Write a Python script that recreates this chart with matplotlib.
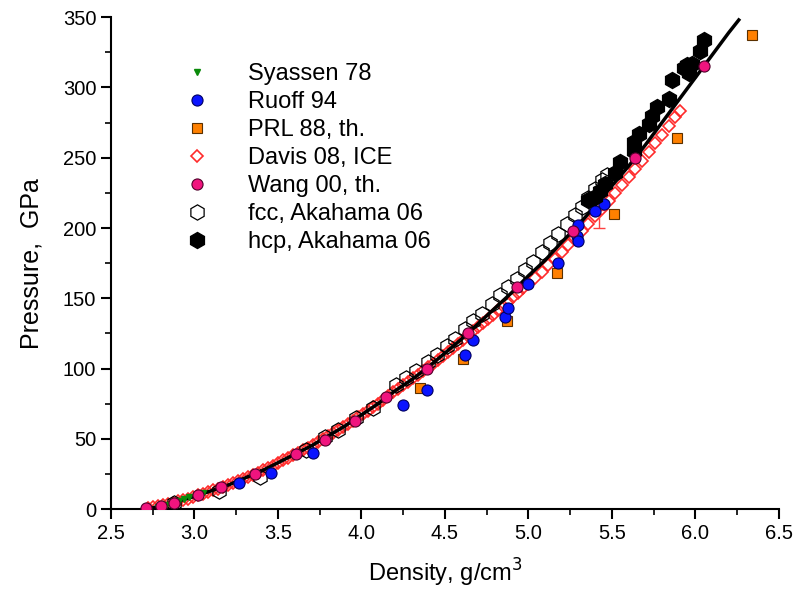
import matplotlib
matplotlib.use("Agg")
from matplotlib import pyplot as plt
from matplotlib.ticker import MultipleLocator

plt.rcParams['font.family'] = ['Liberation Sans', 'DejaVu Sans']

# fitted EOS curve
fit_rho = [2.72, 2.8, 2.9, 3.0, 3.1, 3.2, 3.3, 3.4, 3.5, 3.6, 3.7, 3.8, 3.9, 4.0, 4.1, 4.2,
           4.3, 4.4, 4.5, 4.6, 4.7, 4.8, 4.9, 5.0, 5.1, 5.2, 5.3, 5.4, 5.5, 5.6, 5.7, 5.8,
           5.9, 6.0, 6.1, 6.2, 6.26]
fit_p = [0, 2.5, 5.5, 9, 13, 17, 22, 27, 33, 39, 45, 52, 59, 67, 75, 84,
         92, 101, 111, 121, 132, 143, 154, 166, 177, 190, 202, 216, 230, 244, 259, 275,
         291, 307, 323, 339, 348]

syassen_rho = [2.78, 2.83, 2.87, 2.91, 2.94, 2.97, 3.01, 3.05]
syassen_p = [1.5, 3, 4, 5.5, 7, 8.5, 10, 11.5]

ruoff_rho = [3.27, 3.46, 3.71, 4.25, 4.39, 4.62, 4.67, 4.86, 4.88, 5.00, 5.18, 5.29, 5.30, 5.30, 5.40, 5.45]
ruoff_p = [18.5, 25.6, 40, 74, 85, 110, 120, 137, 143, 160, 175, 194, 202, 191, 212, 217]

prl_rho = [4.35, 4.61, 4.87, 5.17, 5.51, 5.89, 6.34]
prl_p = [86, 107, 134, 168, 210, 264, 337]

davis_rho = [2.72, 2.75, 2.78, 2.81, 2.84, 2.87, 2.90, 2.93, 2.96, 2.99, 3.02, 3.05, 3.08, 3.11,
             3.14, 3.17, 3.20, 3.23, 3.26, 3.29, 3.32, 3.35, 3.38, 3.41, 3.44, 3.47, 3.50, 3.53,
             3.56, 3.59, 3.62, 3.65, 3.68, 3.71, 3.74, 3.77, 3.80, 3.83, 3.86, 3.89, 3.92, 3.95,
             3.98, 4.01, 4.04, 4.07, 4.10, 4.13, 4.16, 4.19, 4.22, 4.25, 4.28, 4.31, 4.34, 4.37,
             4.40, 4.43, 4.46, 4.49, 4.52, 4.55, 4.58, 4.61, 4.64, 4.67, 4.70, 4.73, 4.76, 4.79,
             4.82, 4.85, 4.88, 4.91, 4.94, 4.97, 5.00, 5.04, 5.08, 5.12, 5.16, 5.20, 5.24, 5.28,
             5.32, 5.36, 5.40, 5.44, 5.48, 5.52, 5.56, 5.60, 5.64, 5.68, 5.72, 5.76, 5.80, 5.84,
             5.88, 5.91]
davis_p = [0.5, 1.2, 2.0, 2.8, 3.6, 4.5, 5.5, 6.5, 7.5, 8.6, 9.8, 11.0, 12.2, 13.4,
           14.6, 15.8, 17.1, 18.5, 20.0, 21.5, 23.0, 24.5, 26.0, 27.6, 29.3, 31.0, 32.8, 34.6,
           36.4, 38.3, 40.2, 42.0, 43.8, 45.7, 47.8, 49.9, 52.0, 54.0, 56.1, 58.3, 60.5, 62.8,
           65.2, 67.7, 70.1, 72.5, 75.0, 77.6, 80.3, 83.0, 85.6, 88.1, 90.5, 93.0, 95.7, 98.3,
           101.0, 103.6, 106.4, 109.2, 111.8, 114.6, 117.4, 120.4, 123.3, 126.4, 129.4, 132.3, 135.3, 138.4,
           141.5, 144.6, 147.7, 150.8, 154.0, 157.1, 160.3, 164.6, 169.0, 173.5, 178.2, 183.0, 187.8, 192.8,
           197.9, 203.2, 208.5, 213.8, 219.3, 224.9, 230.5, 236.1, 242.0, 248.0, 254.1, 260.3, 266.5, 272.6,
           278.8, 283.0]

wang_rho = [2.71, 2.80, 2.88, 3.02, 3.16, 3.36, 3.61, 3.78, 3.96, 4.15, 4.39, 4.64, 4.93, 5.27, 5.64, 6.05]
wang_p = [1, 2, 4, 10, 16, 25, 39, 49, 63, 80, 100, 125, 158, 198, 250, 315]

fcc_rho = [2.88, 3.15, 3.39, 3.67, 3.78, 3.86, 3.97, 4.07, 4.21, 4.27, 4.33, 4.40, 4.45, 4.51,
           4.56, 4.62, 4.67, 4.72, 4.78, 4.83, 4.88, 4.93, 4.98, 5.03, 5.08, 5.13, 5.18, 5.23,
           5.28, 5.32, 5.36, 5.40, 5.44, 5.47]
fcc_p = [4, 13, 23, 42, 51, 56, 65, 72, 88, 93, 98, 105, 110, 116,
         121, 128, 134, 139, 146, 152, 158, 164, 170, 176, 183, 189, 196, 203,
         209, 215, 221, 228, 234, 238]

hcp_rho = [5.36, 5.40, 5.43, 5.46, 5.52, 5.55, 5.63, 5.63, 5.66, 5.72, 5.74, 5.77, 5.84, 5.86,
           5.93, 5.95, 5.96, 5.98, 6.03, 6.05]
hcp_p = [220, 222, 226, 231, 239, 247, 255, 261, 267, 274, 280, 286, 292, 305,
         314, 316, 310, 317, 326, 334]

err_rho = [5.42]
err_p = [206.5]
err_dp = [6.5]

fig = plt.figure(figsize=(7.98, 5.92), dpi=100)
ax = fig.add_axes([0.139, 0.140, 0.837, 0.831])

ax.plot(davis_rho, davis_p, 'D', ms=6.5, mfc='none', mec='#ff2a2a', mew=1.2,
        label='Davis 08, ICE', zorder=2)
ax.errorbar(err_rho, err_p, yerr=err_dp, fmt='none', ecolor='#ff4040', elinewidth=1,
            capsize=4, zorder=2)
ax.plot(fcc_rho, fcc_p, 'h', ms=11, mfc='none', mec='black', mew=0.9,
        label='fcc, Akahama 06', zorder=3)
ax.plot(fit_rho, fit_p, '-', color='black', lw=2.5, zorder=4)
ax.plot(syassen_rho, syassen_p, 'v', ms=5, color='#0a8a0a', label='Syassen 78', zorder=4)
ax.plot(prl_rho, prl_p, 's', ms=7, mfc='#ff8000', mec='#5a3000', mew=0.8,
        label='PRL 88, th.', zorder=5)
ax.plot(ruoff_rho, ruoff_p, 'o', ms=8, mfc='#0a14ff', mec='#000060', mew=0.8,
        label='Ruoff 94', zorder=5)
ax.plot(hcp_rho, hcp_p, 'h', ms=11.5, color='black', label='hcp, Akahama 06', zorder=6)
ax.plot(wang_rho, wang_p, 'o', ms=8, mfc='#f0147e', mec='#50002a', mew=0.8,
        label='Wang 00, th.', zorder=7)

ax.set_xlim(2.5, 6.5)
ax.set_ylim(0, 350)
ax.xaxis.set_major_locator(MultipleLocator(0.5))
ax.xaxis.set_minor_locator(MultipleLocator(0.25))
ax.yaxis.set_major_locator(MultipleLocator(50))
ax.yaxis.set_minor_locator(MultipleLocator(25))
ax.xaxis.set_major_formatter(matplotlib.ticker.FormatStrFormatter('%.1f'))

for side in ['top', 'right']:
    ax.spines[side].set_visible(False)
for side in ['left', 'bottom']:
    ax.spines[side].set_linewidth(1.5)
ax.tick_params(which='major', direction='out', length=7, width=1.5, labelsize=14.5)
ax.tick_params(which='minor', direction='out', length=4, width=1.2)

ax.set_xlabel('Density, g/cm$^3$', fontsize=17, labelpad=10)
ax.set_ylabel('Pressure,  GPa', fontsize=18, labelpad=14)

handles, labels = ax.get_legend_handles_labels()
order = ['Syassen 78', 'Ruoff 94', 'PRL 88, th.', 'Davis 08, ICE', 'Wang 00, th.',
         'fcc, Akahama 06', 'hcp, Akahama 06']
hmap = dict(zip(labels, handles))
ax.legend([hmap[k] for k in order], order, loc='upper left', bbox_to_anchor=(0.111, 0.906),
          frameon=False, fontsize=17, labelspacing=0.25, handlelength=1.0,
          handletextpad=1.66, borderaxespad=0, borderpad=0)

fig.savefig('out.png', dpi=100)
